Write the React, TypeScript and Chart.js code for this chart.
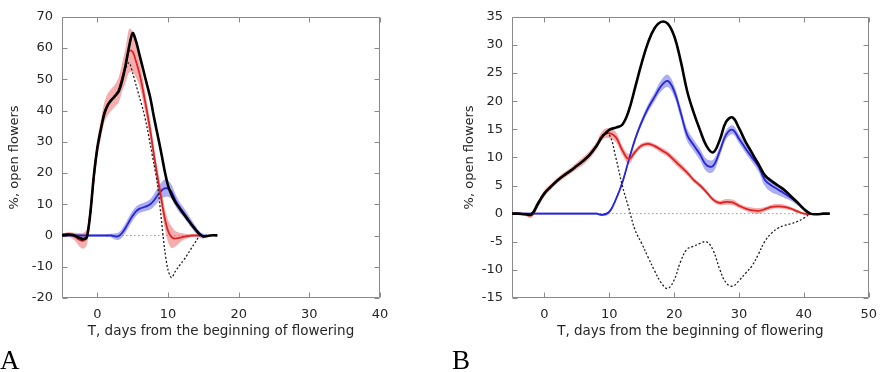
import React, { useEffect, useRef } from 'react';
import { Chart, registerables } from 'chart.js';

Chart.register(...registerables);

// ---------- Panel A data ----------
const xA = [-5, -4.5, -4, -3.5, -3, -2.5, -2, -1.5, -1, -0.5, 0, 0.5, 1, 1.5, 2, 2.5, 3, 3.5, 4, 4.5, 5, 5.5, 6, 6.5, 7, 7.5, 8, 8.5, 9, 9.5, 10, 10.5, 11, 11.5, 12, 12.5, 13, 13.5, 14, 14.5, 15, 15.5, 16, 16.5, 17];
const totalA = [0, 0.2, 0.3, 0.2, -0.2, -0.8, -1.1, -0.6, 7, 19, 28, 34, 39, 41.8, 43.4, 44.6, 46, 49.5, 54.5, 60.5, 64.8, 62, 57.5, 53, 48.5, 44, 38, 32.5, 27, 21, 16, 13, 10.8, 9.2, 7.5, 6, 4.5, 3, 1.6, 0.4, -0.3, -0.2, 0, 0.1, 0];
const redA = [0.3, 0.4, 0.3, 0, -0.6, -1.4, -1.7, -0.6, 7, 18.5, 28, 34, 39.5, 42, 43.5, 44.8, 46.5, 50.5, 54.5, 59.2, 58.8, 55.5, 51.5, 46, 40, 33.5, 26, 19, 12.5, 6, 1.5, -0.5, -1, -0.8, -0.5, -0.3, -0.1, 0, 0, 0, null, null, null, null, null];
const redBandA = [0.5, 0.5, 0.8, 1, 1.5, 2.2, 2.5, 2.5, 3, 3, 3, 3, 3.2, 3.5, 3.5, 3.5, 4, 4.5, 5.5, 7, 6.5, 5, 4, 3.5, 3, 3, 2.8, 2.8, 3, 3.2, 3.5, 3.5, 2.5, 1.8, 1.2, 0.8, 0.6, 0.5, 0.4, 0.4, null, null, null, null, null];
const blueA = [0, 0, 0, 0, 0, 0, 0, 0, 0, 0, 0, 0, 0, 0, 0, -0.3, -0.2, 0.8, 2.5, 4.5, 6.3, 7.8, 8.6, 9, 9.4, 10, 11.2, 12.8, 14.2, 15.1, 15, 14, 11.5, 9.5, 8, 6.5, 4.8, 3.2, 1.6, 0.3, -0.2, 0, null, null, null];
const blueBandA = [0.3, 0.3, 0.3, 0.3, 0.3, 0.3, 0.3, 0.3, 0.3, 0.3, 0.3, 0.3, 0.3, 0.4, 0.6, 1, 1.2, 1.4, 1.5, 1.6, 1.6, 1.5, 1.4, 1.4, 1.5, 1.7, 2, 2.3, 2.6, 2.8, 2.6, 2.3, 2, 1.8, 1.6, 1.5, 1.4, 1.3, 1.2, 1, 0.8, 0.5, null, null, null];
const diffA = [0.3, 0.4, 0.3, 0, -0.6, -1.3, -1.6, -0.6, 7, 18.5, 28, 34, 39.5, 42, 43.5, 45, 46.7, 49.7, 53.5, 55.3, 52, 48, 44, 40, 35, 29, 23, 16.5, 6.5, -4, -11, -13.5, -11.6, -10, -8.5, -7, -5.2, -3.4, -1.7, 0, 0, null, null, null, null];
const xTicksA = [0, 10, 20, 30, 40];
const yTicksA = [-20, -10, 0, 10, 20, 30, 40, 50, 60, 70];

// ---------- Panel B data ----------
const xB = [-5, -4, -3, -2, -1, 0, 1, 2, 3, 4, 5, 6, 7, 8, 9, 10, 11, 12, 13, 14, 15, 16, 17, 18, 19, 20, 21, 22, 23, 24, 25, 26, 27, 28, 29, 30, 31, 32, 33, 34, 35, 36, 37, 38, 39, 40, 41, 42, 43, 44];
const totalB = [0, 0, -0.1, -0.1, 1.8, 3.6, 4.8, 5.9, 6.8, 7.6, 8.5, 9.4, 10.5, 12, 13.8, 14.9, 15.3, 15.8, 18.3, 22.5, 26.8, 30.5, 33, 34.1, 33.8, 31.6, 27.2, 21.8, 18, 14.8, 12, 10.9, 13, 16.3, 17.1, 15.2, 12.8, 10.8, 8.8, 6.8, 5.8, 5, 4.2, 3.1, 2, 0.8, 0, -0.1, 0, 0];
const redB = [0, 0, -0.1, -0.3, 1.6, 3.6, 4.8, 5.9, 6.8, 7.6, 8.5, 9.4, 10.5, 12, 14, 14.3, 13.6, 11.3, 9.7, 11, 12.1, 12.4, 12, 11.3, 10.6, 9.5, 8.4, 7.3, 6, 5, 3.8, 2.5, 1.9, 2.1, 2, 1.4, 0.9, 0.6, 0.5, 0.8, 1.2, 1.3, 1.2, 0.9, 0.4, 0, -0.1, null, null, null];
const redBandB = [0.2, 0.2, 0.3, 0.4, 0.5, 0.6, 0.5, 0.5, 0.5, 0.5, 0.6, 0.7, 0.7, 0.7, 0.8, 0.9, 0.9, 0.8, 0.9, 0.5, 0.4, 0.4, 0.4, 0.5, 0.5, 0.6, 0.6, 0.5, 0.4, 0.4, 0.4, 0.4, 0.4, 0.5, 0.5, 0.4, 0.4, 0.5, 0.5, 0.4, 0.4, 0.4, 0.4, 0.3, 0.3, 0.2, 0.2, null, null, null];
const blueB = [0, 0, 0, 0, 0, 0, 0, 0, 0, 0, 0, 0, 0, 0, -0.2, 0.3, 2.5, 5.5, 9.5, 13.3, 16.3, 18.8, 20.8, 22.7, 23.6, 21.8, 18, 14, 12.2, 10.5, 8.6, 8.5, 11, 14, 14.9, 13.3, 11.6, 10, 8.4, 6, 5, 4.3, 3.6, 2.8, 1.9, 0.9, 0, null, null, null];
const blueBandB = [0.2, 0.2, 0.2, 0.2, 0.2, 0.2, 0.2, 0.2, 0.2, 0.2, 0.2, 0.2, 0.2, 0.2, 0.2, 0.3, 0.3, 0.4, 0.4, 0.5, 0.6, 0.7, 0.8, 1, 1.1, 1, 1, 1.1, 1, 1, 1.1, 1.1, 0.9, 0.8, 0.8, 0.8, 0.8, 0.8, 0.9, 1.1, 1.2, 1, 0.8, 0.5, 0.4, 0.3, 0.2, null, null, null];
const diffB = [0, 0, -0.1, -0.3, 1.6, 3.6, 4.8, 5.9, 6.8, 7.6, 8.5, 9.4, 10.5, 12, 14, 14, 10, 5, 1, -3, -5.3, -7.8, -10.2, -12.3, -13.3, -11.8, -8.5, -6.3, -5.8, -5.3, -5, -6.5, -9.8, -12.3, -12.9, -11.9, -10.6, -9.3, -7.2, -4.9, -3.5, -2.6, -2.1, -1.8, -1.4, -0.8, 0, null, null, null];
const xTicksB = [0, 10, 20, 30, 40, 50];
const yTicksB = [-15, -10, -5, 0, 5, 10, 15, 20, 25, 30, 35];

const X_TITLE = 'T, days from the beginning of flowering';
const Y_TITLE = '%, open flowers';

const FONT = 'DejaVu Sans';
const TEXT = '#262626';

type Panel = {
  left: number; width: number; height: number;
  plotLeft: number; plotRight: number; plotTop: number; plotBottom: number;
  xMin: number; xMax: number; yMin: number; yMax: number;
  xs: number[]; total: (number | null)[]; red: (number | null)[]; redBand: (number | null)[];
  blue: (number | null)[]; blueBand: (number | null)[]; diff: (number | null)[];
  zeroTo: number; xTicks: number[]; yTicks: number[]; yTitlePad: number; tension: number;
};

const panels: Panel[] = [
  {
    left: 0, width: 440, height: 350, plotLeft: 62, plotRight: 380, plotTop: 16, plotBottom: 298,
    xMin: -5, xMax: 40, yMin: -20, yMax: 70,
    xs: xA, total: totalA, red: redA, redBand: redBandA, blue: blueA, blueBand: blueBandA, diff: diffA,
    zeroTo: 15, xTicks: xTicksA, yTicks: yTicksA, yTitlePad: 7, tension: 0.3,
  },
  {
    left: 440, width: 446, height: 350, plotLeft: 72, plotRight: 434, plotTop: 16, plotBottom: 298,
    xMin: -5, xMax: 50, yMin: -15, yMax: 35,
    xs: xB, total: totalB, red: redB, redBand: redBandB, blue: blueB, blueBand: blueBandB, diff: diffB,
    zeroTo: 41, xTicks: xTicksB, yTicks: yTicksB, yTitlePad: 22, tension: 0.4,
  },
];

const pts = (xs: number[], ys: (number | null)[]) => xs.map((x, i) => ({ x, y: ys[i] ?? null }));
const offs = (xs: number[], m: (number | null)[], h: (number | null)[], s: number) =>
  xs.map((x, i) => ({ x, y: m[i] == null || h[i] == null ? null : (m[i] as number) + s * (h[i] as number) }));

const framePlugin = {
  id: 'frame',
  beforeDatasetsDraw(chart: any) {
    const { ctx, chartArea: a, scales } = chart;
    const L = Math.round(a.left) + 0.5, R = Math.round(a.right) - 0.5;
    const T = Math.round(a.top) + 0.5, B = Math.round(a.bottom) - 0.5;
    ctx.save();
    ctx.strokeStyle = '#8a8a8a';
    ctx.lineWidth = 1;
    ctx.beginPath();
    ctx.rect(L, T, R - L, B - T);
    const tl = 5;
    for (const t of scales.x.ticks) {
      const px = Math.round(scales.x.getPixelForValue(t.value)) + 0.5;
      ctx.moveTo(px, B); ctx.lineTo(px, B - tl);
      ctx.moveTo(px, T); ctx.lineTo(px, T + tl);
    }
    for (const t of scales.y.ticks) {
      const py = Math.round(scales.y.getPixelForValue(t.value)) + 0.5;
      ctx.moveTo(L, py); ctx.lineTo(L + tl, py);
      ctx.moveTo(R, py); ctx.lineTo(R - tl, py);
    }
    ctx.stroke();
    ctx.restore();
  },
};

function buildConfig(p: Panel): any {
  const lineBase = { pointRadius: 0, tension: p.tension, fill: false };
  const zero = p.xs.filter((x) => x <= p.zeroTo).map((x) => ({ x, y: 0 }));
  const clear = 'rgba(0,0,0,0)';
  return {
    type: 'line',
    data: {
      datasets: [
        { ...lineBase, data: pts(p.xs, p.total), borderColor: '#000000', borderWidth: 2.6, order: 0 },
        { ...lineBase, data: pts(p.xs, p.diff), borderColor: '#1e1e1e', borderWidth: 1.3, borderDash: [2, 2], order: 1 },
        { ...lineBase, data: pts(p.xs, p.red), borderColor: '#dc2424', borderWidth: 1.8, order: 2 },
        { ...lineBase, data: pts(p.xs, p.blue), borderColor: '#2626d4', borderWidth: 1.8, order: 3 },
        { ...lineBase, data: offs(p.xs, p.red, p.redBand, 1), borderWidth: 0, borderColor: clear, fill: '+1', backgroundColor: 'rgba(238,105,105,0.55)', order: 4 },
        { ...lineBase, data: offs(p.xs, p.red, p.redBand, -1), borderWidth: 0, borderColor: clear, order: 4 },
        { ...lineBase, data: offs(p.xs, p.blue, p.blueBand, 1), borderWidth: 0, borderColor: clear, fill: '+1', backgroundColor: 'rgba(105,105,235,0.55)', order: 5 },
        { ...lineBase, data: offs(p.xs, p.blue, p.blueBand, -1), borderWidth: 0, borderColor: clear, order: 5 },
        { ...lineBase, data: zero, borderColor: '#9a9a9a', borderWidth: 1, borderDash: [1.5, 2.5], tension: 0, order: 6 },
      ],
    },
    options: {
      animation: false,
      responsive: false,
      maintainAspectRatio: false,
      events: [],
      layout: { padding: { left: 0, top: p.plotTop, right: p.width - p.plotRight, bottom: 0 } },
      plugins: { legend: { display: false }, tooltip: { enabled: false } },
      scales: {
        x: {
          type: 'linear', min: p.xMin, max: p.xMax,
          afterBuildTicks: (s: any) => { s.ticks = p.xTicks.map((v) => ({ value: v })); },
          afterFit: (s: any) => { s.height = p.height - p.plotBottom; },
          grid: { display: false, drawTicks: false },
          border: { display: false },
          ticks: { padding: 9, maxRotation: 0, autoSkip: false, color: TEXT, font: { family: FONT, size: 13 } },
          title: { display: true, text: X_TITLE, color: TEXT, font: { family: FONT, size: 13.5 }, padding: { top: 0, bottom: 10 } },
        },
        y: {
          type: 'linear', min: p.yMin, max: p.yMax,
          afterBuildTicks: (s: any) => { s.ticks = p.yTicks.map((v) => ({ value: v })); },
          afterFit: (s: any) => { s.width = p.plotLeft; },
          grid: { display: false, drawTicks: false },
          border: { display: false },
          ticks: { padding: 9, autoSkip: false, color: TEXT, font: { family: FONT, size: 13 } },
          title: { display: true, text: Y_TITLE, color: TEXT, font: { family: FONT, size: 13 }, padding: { top: p.yTitlePad, bottom: 0 } },
        },
      },
    },
    plugins: [framePlugin],
  };
}

function PanelChart({ p }: { p: Panel }) {
  const ref = useRef<HTMLCanvasElement>(null);
  useEffect(() => {
    const chart = new Chart(ref.current as HTMLCanvasElement, buildConfig(p));
    return () => chart.destroy();
  }, [p]);
  return (
    <canvas
      ref={ref}
      width={p.width}
      height={p.height}
      style={{ position: 'absolute', left: p.left, top: 0, width: p.width, height: p.height }}
    />
  );
}

const letterStyle: React.CSSProperties = {
  position: 'absolute', top: 347, fontFamily: '"Liberation Serif", "Times New Roman", serif',
  fontSize: 27, lineHeight: '27px', color: '#000',
};

export default function App() {
  return (
    <div style={{ position: 'fixed', left: 0, top: 0, width: 886, height: 372, background: '#fff', overflow: 'hidden' }}>
      {panels.map((p, i) => <PanelChart key={i} p={p} />)}
      <div style={{ ...letterStyle, left: 0 }}>A</div>
      <div style={{ ...letterStyle, left: 452 }}>B</div>
    </div>
  );
}
